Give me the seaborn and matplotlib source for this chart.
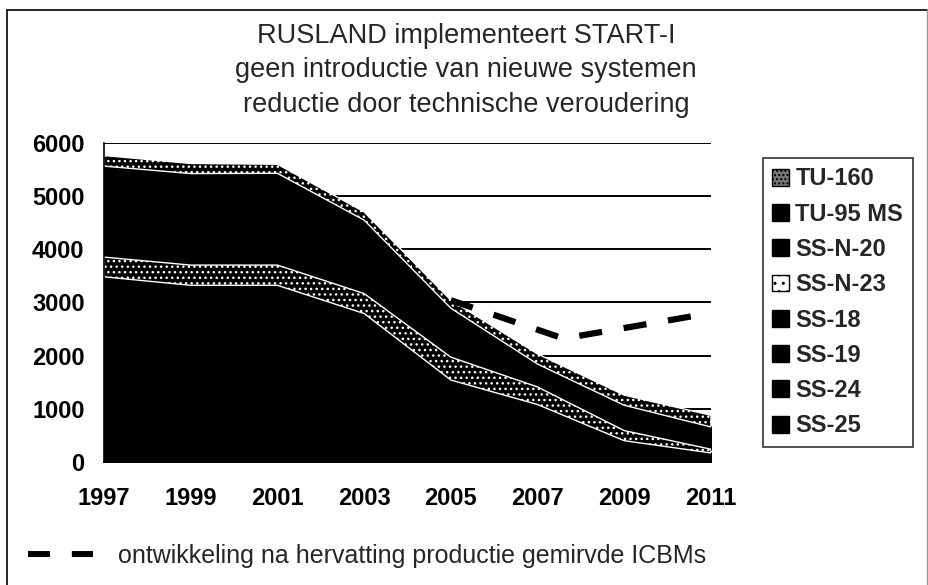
import matplotlib
matplotlib.use('Agg')
import matplotlib.pyplot as plt
import seaborn as sns
import pandas as pd
from matplotlib.patches import Patch
from matplotlib.lines import Line2D

# Jaren en kernkoppen per systeem
years = [1997, 1999, 2001, 2003, 2005, 2007, 2009, 2011]
ss25 = [480, 520, 520, 440, 290, 180, 60, 50]
ss24 = [500, 450, 450, 350, 150, 100, 40, 0]
ss19 = [1000, 950, 950, 800, 400, 300, 100, 40]
ss18 = [1500, 1400, 1400, 1200, 700, 500, 200, 80]
ssn23 = [370, 380, 380, 375, 430, 330, 190, 70]
ssn20 = [1150, 1160, 1165, 880, 420, 100, 76, 58]
tu95 = [560, 560, 560, 500, 500, 330, 400, 360]
tu160 = [200, 190, 170, 155, 150, 190, 190, 220]

series_names = ['SS-25', 'SS-24', 'SS-19', 'SS-18', 'SS-N-23', 'SS-N-20', 'TU-95 MS', 'TU-160']

# Ontwikkeling na hervatting productie (stippellijn)
dash_years = [2005, 2007.6, 2011]
dash_values = [3040, 2320, 2800]

title = ('RUSLAND implementeert START-I\n'
         'geen introductie van nieuwe systemen\n'
         'reductie door technische veroudering')
dash_label = 'ontwikkeling na hervatting productie gemirvde ICBMs'

sns.set_theme(style='white')
plt.rcParams['font.family'] = ['Liberation Sans', 'DejaVu Sans']
plt.rcParams['hatch.linewidth'] = 1.0

df = pd.DataFrame({'year': years, 'SS-25': ss25, 'SS-24': ss24, 'SS-19': ss19,
                   'SS-18': ss18, 'SS-N-23': ssn23, 'SS-N-20': ssn20,
                   'TU-95 MS': tu95, 'TU-160': tu160})

fig = plt.figure(figsize=(9.29, 5.85), dpi=100)
W, H = 929, 585
ax = fig.add_axes([104 / W, 1 - 462 / H, (711 - 104) / W, (462 - 142.7) / H])

# gestapelde vlakken
polys = ax.stackplot(df['year'], *[df[n] for n in series_names],
                     colors=['black'] * 8, zorder=2)
for p, name in zip(polys, series_names):
    if name in ('SS-N-23', 'TU-160'):
        p.set_facecolor('black')
        p.set_edgecolor('white')
        p.set_hatch('...')
        p.set_linewidth(1.0)
        p.set_zorder(3)
    else:
        p.set_edgecolor('black')
        p.set_linewidth(1.5)

# stippellijn
sns.lineplot(x=dash_years, y=dash_values, ax=ax, color='black', lw=4.5,
             linestyle=(0, (3.7, 3.5)), dash_capstyle='butt', zorder=4)

ax.set_xlim(1997, 2011)
ax.set_ylim(0, 6000)
ax.set_xticks(range(1997, 2012, 2))
ax.set_yticks(range(0, 6001, 1000))
for v in range(1000, 6001, 1000):
    ax.axhline(v, color='black', lw=1.4, zorder=1)

for s in ['top', 'right']:
    ax.spines[s].set_visible(False)
for s in ['left', 'bottom']:
    ax.spines[s].set_color('black')
    ax.spines[s].set_linewidth(1.2)
    ax.spines[s].set_zorder(5)

ax.tick_params(axis='both', which='major', direction='out', length=6, width=1.2,
               color='black', labelsize=17, labelcolor='black')
ax.tick_params(axis='x', pad=12)
ax.tick_params(axis='y', pad=8)
for lab in ax.get_xticklabels() + ax.get_yticklabels():
    lab.set_fontweight('bold')
ax.set_xlabel('')
ax.set_ylabel('')
ax.set_facecolor('white')

# titel
fig.text(466 / W, 1 - 23 / H, title, ha='center', va='top', fontsize=19.5,
         linespacing=1.42)

# legenda rechts
handles = []
for name in series_names[::-1]:
    if name == 'TU-160':
        handles.append(Patch(facecolor='#777777', edgecolor='black', hatch='....', lw=1))
    elif name == 'SS-N-23':
        handles.append(Patch(facecolor='white', edgecolor='black', hatch='..', lw=1))
    else:
        handles.append(Patch(facecolor='black', edgecolor='black', lw=1))
leg = fig.legend(handles, series_names[::-1], loc='upper left',
                 bbox_to_anchor=(763 / W, 1 - 158 / H), borderaxespad=0,
                 frameon=True, fancybox=False, shadow=False,
                 prop={'size': 17, 'weight': 'bold'}, handlelength=0.72,
                 handleheight=0.72, handletextpad=0.25, labelspacing=0.52,
                 borderpad=0.4)
leg.get_frame().set_edgecolor('black')
leg.get_frame().set_linewidth(1.2)

# legenda stippellijn onderaan
dash_handle = Line2D([], [], color='black', lw=4.3, linestyle=(0, (3.67, 3.67)),
                     dash_capstyle='butt')
fig.legend([dash_handle], [dash_label], loc='center left',
           bbox_to_anchor=(18 / W, 1 - 556 / H), borderaxespad=0, frameon=False,
           prop={'size': 18}, handlelength=2.6, handletextpad=1.0, borderpad=0.4)

# rand van de grafiek
fig.add_artist(Line2D([7 / W, 7 / W], [0, 1 - 10 / H], transform=fig.transFigure,
                      color='black', lw=1.2))
fig.add_artist(Line2D([7 / W, 927 / W], [1 - 10 / H, 1 - 10 / H], transform=fig.transFigure,
                      color='black', lw=1.2))
fig.add_artist(Line2D([927 / W, 927 / W], [0, 1 - 10 / H], transform=fig.transFigure,
                      color='#999999', lw=1.0))

fig.savefig('out.png', dpi=100, facecolor='white')
